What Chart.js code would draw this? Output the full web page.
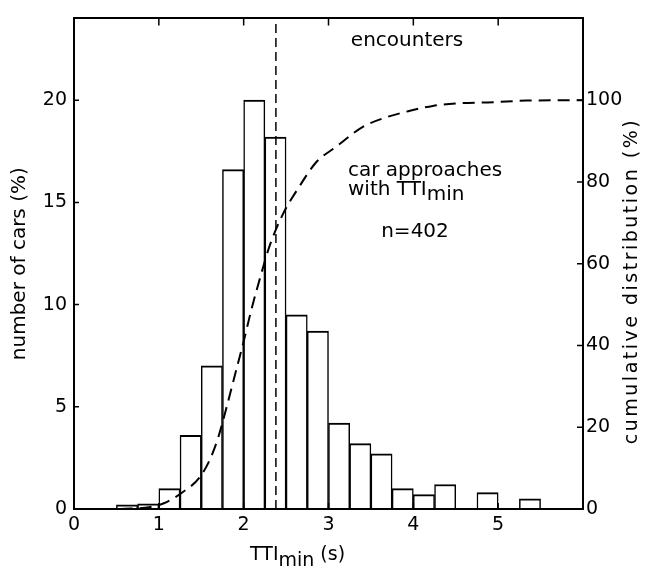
<!DOCTYPE html>
<html>
<head>
<meta charset="utf-8">
<script src="https://cdn.jsdelivr.net/npm/chart.js@4.4.1/dist/chart.umd.min.js"></script>
<style>
html,body{margin:0;padding:0;background:#fff;}
#wrap{width:647px;height:570px;position:relative;}
</style>
</head>
<body>
<div id="wrap"><canvas id="c" width="647" height="570"></canvas></div>
<script>
// ---- data ----
// histogram bins of TTImin (s), 0.25 s wide: bin centres
const binCenters = [0.625, 0.875, 1.125, 1.375, 1.625, 1.875, 2.125, 2.375, 2.625, 2.875,
                    3.125, 3.375, 3.625, 3.875, 4.125, 4.375, 4.625, 4.875, 5.125, 5.375];
// number of cars (%) per bin
const carsPct = [0.2, 0.25, 1.0, 3.6, 7.0, 16.6, 20.0, 18.2, 9.5, 8.7,
                 4.2, 3.2, 2.7, 1.0, 0.7, 1.2, 0, 0.8, 0, 0.5];
// cumulative distribution (%) curve
const cumX = [0.55, 0.9, 1.06, 1.28, 1.48, 1.6, 1.7, 1.8, 1.9, 2.0, 2.1, 2.2, 2.3, 2.46,
              2.66, 2.85, 3.09, 3.4, 3.68, 3.96, 4.23, 4.51, 4.94, 5.33, 6.0];
const cumY = [0, 0.5, 1.4, 4.1, 7.7, 12, 17.5, 25, 33, 41, 49.5, 57, 64, 72,
              79, 84.7, 88.6, 93.4, 95.8, 97.4, 98.6, 99.2, 99.5, 99.9, 100];
// vertical dashed reference line (s)
const markerX = [2.38];
// axis tick labels
const xTickLabels = ['0', '1', '2', '3', '4', '5'];
const yLeftTicks = [0, 5, 10, 15, 20];
const yRightTicks = [0, 20, 40, 60, 80, 100];

const FONT = '"DejaVu Sans", sans-serif';
Chart.defaults.color = '#000';
Chart.defaults.font.family = FONT;

// inward tick marks on all four sides of the frame
const inwardTicks = {
  id: 'inwardTicks',
  afterDraw(chart) {
    const ctx = chart.ctx, a = chart.chartArea;
    const sx = chart.scales.x, sy = chart.scales.y, sy2 = chart.scales.y2;
    ctx.save();
    ctx.strokeStyle = '#000';
    ctx.lineWidth = 1.5;
    ctx.beginPath();
    xTickLabels.forEach((t) => {
      const px = sx.getPixelForValue(Number(t));
      ctx.moveTo(px, a.bottom); ctx.lineTo(px, a.bottom - 6);
      ctx.moveTo(px, a.top); ctx.lineTo(px, a.top + 7);
    });
    yLeftTicks.forEach((v) => {
      const py = sy.getPixelForValue(v);
      ctx.moveTo(a.left, py); ctx.lineTo(a.left + 5, py);
    });
    yRightTicks.forEach((v) => {
      const py = sy2.getPixelForValue(v);
      ctx.moveTo(a.right, py); ctx.lineTo(a.right - 6, py);
    });
    ctx.stroke();
    ctx.restore();
  }
};

function drawParts(ctx, parts, x, y) {
  let cx = x;
  parts.forEach(([txt, dy]) => {
    ctx.fillText(txt, cx, y + dy);
    cx += ctx.measureText(txt).width;
  });
}

const texts = {
  id: 'texts',
  afterDraw(chart) {
    const ctx = chart.ctx;
    ctx.save();
    ctx.fillStyle = '#000';
    ctx.textBaseline = 'alphabetic';
    ctx.font = '20px ' + FONT;
    ctx.textAlign = 'center';
    ctx.fillText('encounters', 407, 46);
    ctx.fillText('n=402', 415, 237);
    ctx.textAlign = 'left';
    ctx.fillText('car approaches', 348, 176);
    drawParts(ctx, [['with TTI', 0], ['min', 5]], 348, 195);
    ctx.font = '19px ' + FONT;
    drawParts(ctx, [['TTI', 0], ['min', 6], [' (s)', 0]], 250, 560);
    // right axis title, reading bottom to top
    ctx.translate(632, 281);
    ctx.rotate(-Math.PI / 2);
    ctx.textAlign = 'center';
    ctx.textBaseline = 'middle';
    ctx.font = '19px ' + FONT;
    if ('letterSpacing' in ctx) ctx.letterSpacing = '2.5px';
    ctx.fillText('cumulative distribution (%)', 0, 0);
    ctx.restore();
  }
};

const axisBorder = { display: true, color: '#000', width: 2, z: 1 };
const tickFont = { family: FONT, size: 19 };

new Chart(document.getElementById('c'), {
  type: 'bar',
  data: {
    datasets: [
      {
        type: 'line',
        label: 'cumulative',
        data: cumX.map((x, i) => ({ x: x, y: cumY[i] })),
        yAxisID: 'y2',
        borderColor: '#000',
        borderWidth: 2,
        borderDash: [12, 7],
        pointRadius: 0,
        cubicInterpolationMode: 'monotone',
        fill: false,
        order: 0
      },
      {
        type: 'line',
        label: 'marker',
        data: [{ x: markerX[0], y: 0 }, { x: markerX[0], y: 24 }],
        yAxisID: 'y',
        borderColor: '#000',
        borderWidth: 1.5,
        borderDash: [9, 5],
        pointRadius: 0,
        fill: false,
        order: 0
      },
      {
        type: 'bar',
        label: 'cars',
        data: binCenters.map((c, i) => ({ x: c, y: carsPct[i] })),
        yAxisID: 'y',
        backgroundColor: '#fff',
        borderColor: '#000',
        borderWidth: { top: 2, left: 1.5, right: 1.5, bottom: 0 },
        borderSkipped: false,
        barPercentage: 1,
        categoryPercentage: 1,
        grouped: false,
        order: 1
      }
    ]
  },
  options: {
    responsive: false,
    devicePixelRatio: 1,
    animation: false,
    layout: { padding: 0 },
    plugins: { legend: { display: false }, tooltip: { enabled: false } },
    scales: {
      x: {
        type: 'linear', position: 'bottom', min: 0, max: 6, offset: false,
        grid: { display: false, drawTicks: false, offset: false },
        border: axisBorder,
        ticks: {
          stepSize: 1, font: tickFont, padding: 5, maxRotation: 0,
          callback: (v) => (xTickLabels.includes(String(v)) ? String(v) : '')
        },
        afterFit: (s) => { s.height = 61; }
      },
      x2: {
        type: 'linear', position: 'top', min: 0, max: 6,
        grid: { display: false, drawTicks: false },
        border: axisBorder,
        ticks: { display: false },
        afterFit: (s) => { s.height = 6; }
      },
      y: {
        position: 'left', min: 0, max: 24,
        grid: { display: false, drawTicks: false },
        border: axisBorder,
        ticks: {
          stepSize: 5, includeBounds: false, font: tickFont, padding: 7,
          callback: (v) => (yLeftTicks.includes(v) ? String(v) : '')
        },
        title: {
          display: true, text: 'number of cars (%)',
          font: { family: FONT, size: 20 }, padding: { top: 8, bottom: 0 }
        },
        afterFit: (s) => { s.width = 74; }
      },
      y2: {
        position: 'right', min: 0, max: 120,
        grid: { display: false, drawTicks: false },
        border: axisBorder,
        ticks: {
          stepSize: 20, includeBounds: false, font: tickFont, padding: 3,
          callback: (v) => (yRightTicks.includes(v) ? String(v) : '')
        },
        afterFit: (s) => { s.width = 64; }
      }
    }
  },
  plugins: [inwardTicks, texts]
});
</script>
</body>
</html>
